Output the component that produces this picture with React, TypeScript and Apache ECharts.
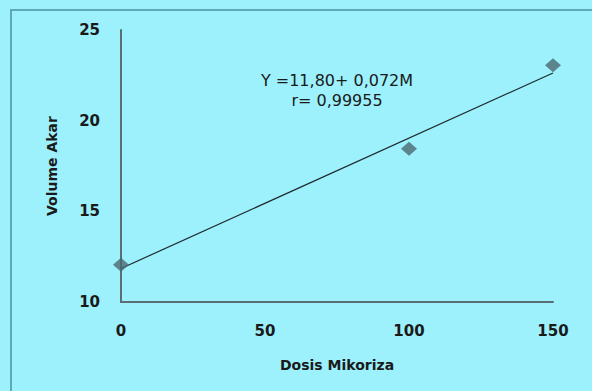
import React, { useEffect, useRef } from "react";
import * as echarts from "echarts";

const doses = [0, 100, 150];
const volumes = [12.05, 18.45, 23.05];
const trendX = [0, 150];
const trendY = [11.85, 22.63];
const xTicks = [0, 50, 100, 150];
const yTicks = [10, 15, 20, 25];
const equationLines = ["Y =11,80+ 0,072M", "r= 0,99955"];

export default function App() {
  const ref = useRef<HTMLDivElement>(null);
  useEffect(() => {
    document.body.style.margin = "0";
    const chart = echarts.init(ref.current!, null, { renderer: "svg" });
    const font = "'DejaVu Sans', sans-serif";
    chart.setOption({
      animation: false,
      backgroundColor: "#9cf1fc",
      graphic: [
        {
          type: "rect",
          shape: { x: 11, y: 10, width: 700, height: 500 },
          style: { fill: "#9cf1fc", stroke: "#5fa9b6", lineWidth: 2 },
          z: -10,
          silent: true,
        },
        {
          type: "text",
          x: 337,
          y: 80,
          style: {
            text: equationLines[0],
            font: `16px ${font}`,
            fill: "#1a1a1a",
            align: "center",
            verticalAlign: "middle",
          },
        },
        {
          type: "text",
          x: 337,
          y: 100,
          style: {
            text: equationLines[1],
            font: `16px ${font}`,
            fill: "#1a1a1a",
            align: "center",
            verticalAlign: "middle",
          },
        },
      ],
      grid: { left: 121, top: 30, width: 432, height: 272, containLabel: false },
      xAxis: {
        type: "value",
        min: xTicks[0],
        max: xTicks[xTicks.length - 1],
        interval: 50,
        name: "Dosis Mikoriza",
        nameLocation: "middle",
        nameGap: 56,
        nameTextStyle: { fontFamily: font, fontSize: 14, fontWeight: "bold", color: "#1a1a1a", verticalAlign: "top" },
        axisLine: { show: true, lineStyle: { color: "#5a6e74", width: 2 } },
        axisTick: { show: false },
        splitLine: { show: false },
        axisLabel: { margin: 21, fontFamily: font, fontSize: 15, fontWeight: "bold", color: "#1a1a1a" },
      },
      yAxis: {
        type: "value",
        min: yTicks[0],
        max: yTicks[yTicks.length - 1],
        interval: 5,
        name: "Volume Akar",
        nameLocation: "middle",
        nameGap: 62,
        nameRotate: 90,
        nameTextStyle: { fontFamily: font, fontSize: 14, fontWeight: "bold", color: "#1a1a1a" },
        axisLine: { show: true, lineStyle: { color: "#5a6e74", width: 2 } },
        axisTick: { show: false },
        splitLine: { show: false },
        axisLabel: { margin: 21, fontFamily: font, fontSize: 15, fontWeight: "bold", color: "#1a1a1a" },
      },
      series: [
        {
          type: "line",
          data: trendX.map((x, i) => [x, trendY[i]]),
          symbol: "none",
          lineStyle: { color: "#1f2a2c", width: 1.2 },
          z: 2,
        },
        {
          type: "scatter",
          data: doses.map((x, i) => [x, volumes[i]]),
          symbol: "diamond",
          symbolSize: [16, 14],
          itemStyle: { color: "#4b6970" },
          z: 3,
        },
      ],
    });
    return () => chart.dispose();
  }, []);
  return <div ref={ref} style={{ width: 592, height: 391 }} />;
}
